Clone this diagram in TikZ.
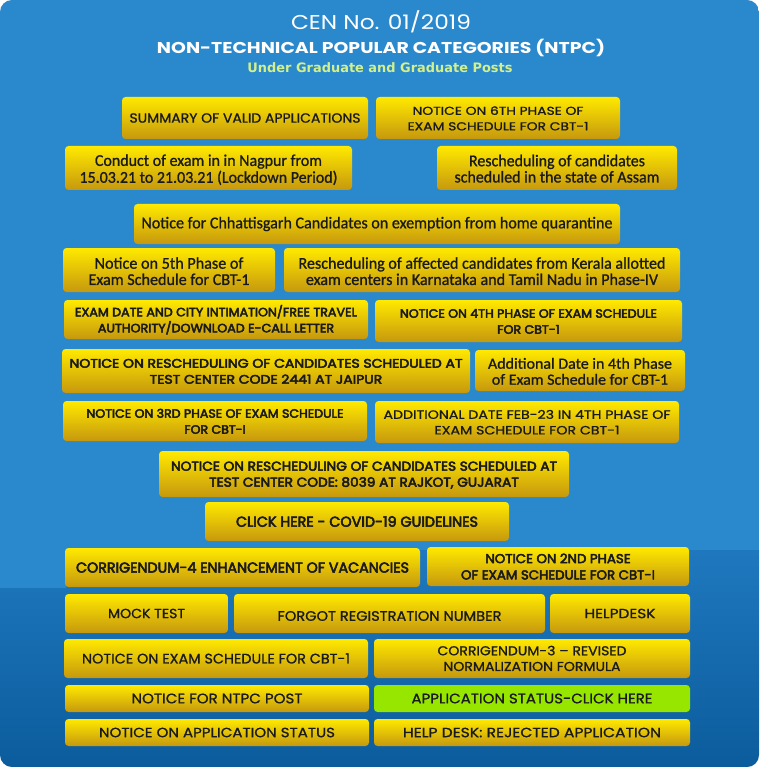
\documentclass[tikz,border=0pt]{standalone}
\usepackage{graphicx}
\usepackage{fontspec}
\newfontfamily\pop{Poppins}
\newfontfamily\popr[FakeBold=1.0]{Poppins}
\newfontfamily\popb[FakeBold=3.8]{Poppins}
\newfontfamily\carl[FakeBold=1.0]{Carlito}
\newfontfamily\dvs{DejaVu Sans}
\definecolor{bgtop}{HTML}{2A88CC}
\definecolor{bgmid}{HTML}{1F78BE}
\definecolor{bgbot}{HTML}{0B5C9C}
\definecolor{boxtop}{HTML}{FFE900}
\definecolor{boxbot}{HTML}{C6980E}
\definecolor{boxgreen}{HTML}{97E600}
\definecolor{boxtext}{HTML}{1A1A1A}
\definecolor{subtitle}{HTML}{D2F08C}
\newcommand\fitt[2]{\resizebox{#1pt}{\height}{#2}}
\newcommand\fs[2]{\fontsize{#1}{#2}\selectfont}
\newcommand\two[2]{\begin{tabular}{@{}c@{}}#1\\#2\end{tabular}}
\newcommand\dn[2]{\raisebox{-#1pt}[\height][\depth]{#2}}
\newcommand\bx[7][ybox]{\node[#1, minimum width={(#5-#3)*1pt}, minimum height={(#6-#4)*1pt}] (#2) at ({(#3+#5)/2},{(#4+#6)/2}) {#7};}
\tikzset{
  ybox/.style={rounded corners=3.5pt, top color=boxtop, bottom color=boxbot, inner sep=0pt, text=boxtext, align=center},
  gbox/.style={rounded corners=3.5pt, fill=boxgreen, inner sep=0pt, text=boxtext, align=center},
  title/.style={inner sep=0pt, text=white},
}
\begin{document}
\begin{tikzpicture}[x=1pt,y=-1pt]
\useasboundingbox (0,0) rectangle (759,767);
\fill[white] (0,0) rectangle (759,767);
\begin{scope}
\clip[rounded corners=12pt] (0,0) rectangle (759,767);
\fill[bgtop] (0,0) rectangle (759,550);
\shade[top color=bgmid, bottom color=bgbot] (0,550) rectangle (759,767);
\fill[bgtop] (0,550) rectangle (66,588);
\end{scope}
% titles
\node[title] (t1) at (381,22) {\pop\fs{20}{24}\fitt{180}{CEN No. 01/2019}};
\node[title] (t2) at (381,47.5) {\pop\bfseries\fs{15.7}{18}\fitt{448}{NON-TECHNICAL POPULAR CATEGORIES (NTPC)}};
\node[title, text=subtitle] (t3) at (380,68) {\dvs\bfseries\fs{13}{15}\fitt{265}{Under Graduate and Graduate Posts}};
% boxes
\bx{b1}{122}{97}{368}{139}{\popr\fs{13.3}{16}\fitt{231}{SUMMARY OF VALID APPLICATIONS}}
\bx{b2}{376}{97}{620}{139}{\popr\fs{11.5}{15.5}\dn{1.5}{\fitt{181}{\two{NOTICE ON 6TH PHASE OF}{EXAM SCHEDULE FOR CBT-1}}}}
\bx{b3}{65}{146}{352}{190}{\carl\fs{16.5}{16}\dn{3}{\fitt{258}{\two{Conduct of exam in in Nagpur from}{15.03.21 to 21.03.21 (Lockdown Period)}}}}
\bx{b4}{437}{146}{677}{190}{\carl\fs{16.5}{16}\dn{3}{\fitt{205}{\two{Rescheduling of candidates}{scheduled in the state of Assam}}}}
\bx{b5}{134}{204}{620}{244}{\carl\fs{16.5}{18}\fitt{471}{Notice for Chhattisgarh Candidates on exemption from home quarantine}}
\bx{b6}{63}{248}{275}{292}{\carl\fs{16.5}{16}\dn{3.5}{\fitt{161}{\two{Notice on 5th Phase of}{Exam Schedule for CBT-1}}}}
\bx{b7}{284}{248}{680}{292}{\carl\fs{16.5}{16}\dn{3.5}{\fitt{367}{\two{Rescheduling of affected candidates from Kerala allotted}{exam centers in Karnataka and Tamil Nadu in Phase-IV}}}}
\bx{b8}{64}{300}{368}{339}{\popb\fs{12}{15.7}\dn{1.5}{\fitt{282}{\two{EXAM DATE AND CITY INTIMATION/FREE TRAVEL}{AUTHORITY/DOWNLOAD E-CALL LETTER}}}}
\bx{b9}{375}{300}{682}{342}{\popb\fs{12}{16}\dn{1.5}{\fitt{257}{\two{NOTICE ON 4TH PHASE OF EXAM SCHEDULE}{FOR CBT-1}}}}
\bx{b10}{62}{349}{470}{393}{\popb\fs{12.4}{16}\dn{1.5}{\fitt{393}{\two{NOTICE ON RESCHEDULING OF CANDIDATES SCHEDULED AT}{TEST CENTER CODE 2441 AT JAIPUR}}}}
\bx{b11}{475}{350}{685}{391}{\carl\fs{15.5}{16}\dn{3}{\fitt{184}{\two{Additional Date in 4th Phase}{of Exam Schedule for CBT-1}}}}
\bx{b12}{63}{401}{367}{441}{\popb\fs{12}{16}\dn{1.5}{\fitt{257}{\two{NOTICE ON 3RD PHASE OF EXAM SCHEDULE}{FOR CBT-I}}}}
\bx{b13}{375}{401}{679}{443}{\popr\fs{12}{15.6}\dn{1.5}{\fitt{287}{\two{ADDITIONAL DATE FEB-23 IN 4TH PHASE OF}{EXAM SCHEDULE FOR CBT-1}}}}
\bx{b14}{159}{451}{569}{497}{\popb\fs{12.9}{16}\dn{1.5}{\fitt{386}{\two{NOTICE ON RESCHEDULING OF CANDIDATES SCHEDULED AT}{TEST CENTER CODE: 8039 AT RAJKOT, GUJARAT}}}}
\bx{b15}{205}{502}{509}{541}{\popb\fs{14.3}{17}\fitt{242}{CLICK HERE - COVID-19 GUIDELINES}}
\bx{b16}{65}{548}{420}{587}{\popb\fs{14.3}{17}\fitt{333}{CORRIGENDUM-4 ENHANCEMENT OF VACANCIES}}
\bx{b17}{427}{547}{689}{586}{\popb\fs{12.9}{16.3}\dn{1.5}{\fitt{194}{\two{NOTICE ON 2ND PHASE}{OF EXAM SCHEDULE FOR CBT-I}}}}
\bx{b18}{65}{594}{228}{633}{\popr\fs{13.3}{16}\fitt{77}{MOCK TEST}}
\bx{b19}{234}{594}{545}{633}{\popr\fs{13.8}{16}\dn{2.5}{\fitt{224}{FORGOT REGISTRATION NUMBER}}}
\bx{b20}{550}{594}{690}{633}{\popr\fs{13.3}{16}\fitt{71}{HELPDESK}}
\bx{b21}{64}{639}{368}{678}{\popr\fs{13.8}{16}\fitt{268}{NOTICE ON EXAM SCHEDULE FOR CBT-1}}
\bx{b22}{374}{639}{690}{678}{\popr\fs{12.9}{15.7}\dn{1.5}{\fitt{189}{\two{CORRIGENDUM-3 – REVISED}{NORMALIZATION FORMULA}}}}
\bx{b23}{65}{685}{369}{712}{\popr\fs{13.8}{16}\fitt{171}{NOTICE FOR NTPC POST}}
\bx[gbox]{b24}{374}{685}{690}{712}{\popr\fs{13.8}{16}\fitt{241}{APPLICATION STATUS-CLICK HERE}}
\bx{b25}{65}{719}{369}{746}{\popr\fs{13.4}{16}\fitt{236}{NOTICE ON APPLICATION STATUS}}
\bx{b26}{374}{719}{690}{746}{\popr\fs{13.4}{16}\fitt{258}{HELP DESK: REJECTED APPLICATION}}
\end{tikzpicture}
\end{document}
